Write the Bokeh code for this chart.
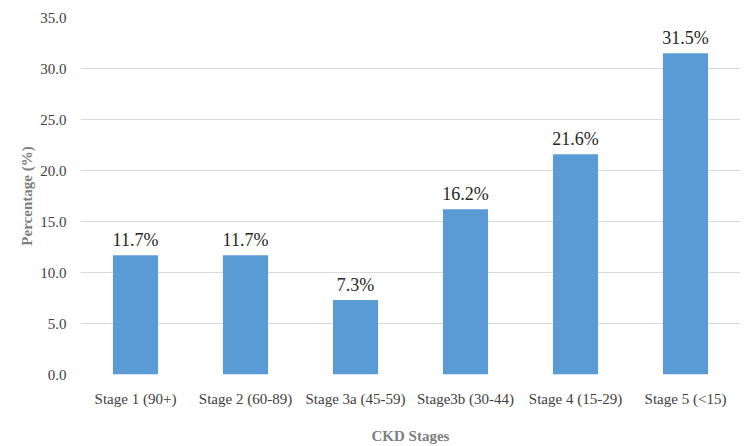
from bokeh.plotting import figure
from bokeh.models import ColumnDataSource, Range1d, FixedTicker, NumeralTickFormatter
from bokeh.core.properties import value
from bokeh.embed import file_html
from bokeh.resources import INLINE

stages = ["Stage 1 (90+)", "Stage 2 (60-89)", "Stage 3a (45-59)", "Stage3b (30-44)", "Stage 4 (15-29)", "Stage 5 (<15)"]
percentages = [11.7, 11.7, 7.3, 16.2, 21.6, 31.5]
labels = [f"{v:.1f}%" for v in percentages]

src = ColumnDataSource(dict(x=stages, y=percentages, lab=labels))

p = figure(x_range=stages, y_range=Range1d(0, 35), width=750, height=446,
           output_backend="svg", toolbar_location=None,
           min_border_left=80, min_border_right=10, min_border_top=17, min_border_bottom=72)
p.outline_line_color = None
p.vbar(x="x", top="y", width=0.41, source=src, fill_color="#5b9bd5", line_color=None)
p.text(x="x", y="y", text="lab", source=src, text_align="center", text_baseline="bottom",
       y_offset=-5, text_font=value("Liberation Serif"), text_font_size="18px", text_color="#262626")

p.yaxis.ticker = FixedTicker(ticks=[0, 5, 10, 15, 20, 25, 30, 35])
p.yaxis.formatter = NumeralTickFormatter(format="0.0")
for ax in (p.xaxis[0], p.yaxis[0]):
    ax.axis_line_color = None
    ax.major_tick_line_color = None
    ax.minor_tick_line_color = None
    ax.major_label_text_font = "Liberation Serif"
    ax.major_label_text_font_size = "15px"
    ax.major_label_text_color = "#404040"
    ax.axis_label_text_font = "Liberation Serif"
    ax.axis_label_text_font_size = "15px"
    ax.axis_label_text_font_style = "bold"
    ax.axis_label_text_color = "#7f7f7f"
p.xaxis.axis_label = "CKD Stages"
p.yaxis.axis_label = "Percentage (%)"
p.xaxis.major_label_standoff = 10
p.xaxis.axis_label_standoff = 18
p.yaxis.major_label_standoff = 8
p.yaxis.axis_label_standoff = 2
p.xgrid.grid_line_color = None
p.ygrid.grid_line_color = "#d9d9d9"
p.ygrid.grid_line_width = 1

open("out.html", "w").write(file_html(p, INLINE))
